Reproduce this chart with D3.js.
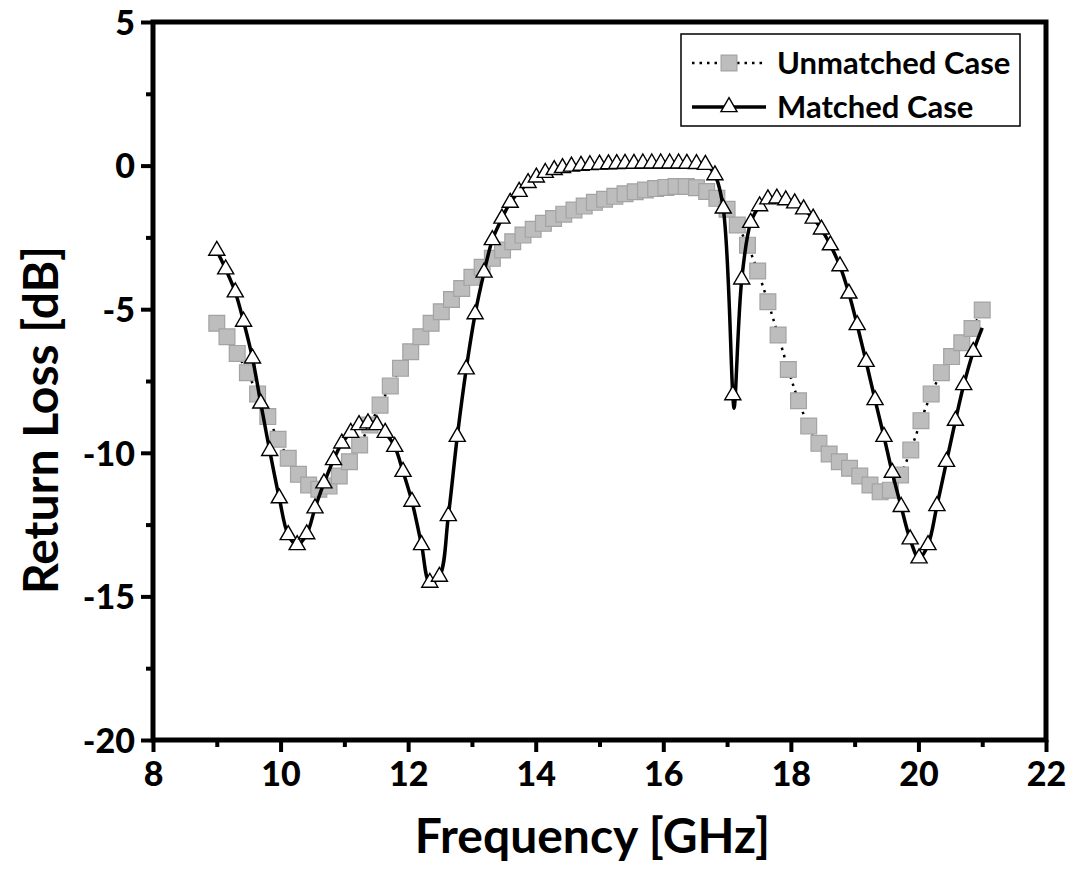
<!DOCTYPE html>
<html>
<head>
<meta charset="utf-8">
<script src="https://cdn.jsdelivr.net/npm/d3@7"></script>
<style>
  body { margin: 0; background: #fff; }
  svg { display: block; }
  text { font-family: Lato, "Open Sans", sans-serif; font-weight: bold; fill: #000; }
</style>
</head>
<body>
<svg></svg>
<script>
var width = 1066, height = 888;

// frequency in GHz, return loss in dB
var unmatchedFreq = [9.00, 9.16, 9.32, 9.48, 9.64, 9.80, 9.96, 10.12, 10.28, 10.44, 10.60, 10.76, 10.92, 11.08, 11.24, 11.40,
    11.56, 11.72, 11.88, 12.04, 12.20, 12.36, 12.52, 12.68, 12.84, 13.00, 13.16, 13.32, 13.48, 13.64, 13.80, 13.96,
    14.12, 14.28, 14.44, 14.60, 14.76, 14.92, 15.08, 15.24, 15.40, 15.56, 15.72, 15.88, 16.04, 16.20, 16.36, 16.52,
    16.68, 16.84, 17.00, 17.16, 17.32, 17.48, 17.64, 17.80, 17.96, 18.12, 18.28, 18.44, 18.60, 18.76, 18.92, 19.08,
    19.24, 19.40, 19.56, 19.72, 19.88, 20.04, 20.20, 20.36, 20.52, 20.68, 20.84, 21.00];
var unmatchedRL = [-5.49, -5.96, -6.54, -7.21, -7.95, -8.74, -9.53, -10.19, -10.75, -11.12, -11.27, -11.16, -10.81, -10.31, -9.73, -9.03,
    -8.34, -7.67, -7.06, -6.48, -5.96, -5.49, -5.09, -4.66, -4.28, -3.89, -3.54, -3.23, -2.94, -2.65, -2.42, -2.22,
    -2.01, -1.84, -1.69, -1.55, -1.41, -1.28, -1.17, -1.07, -0.98, -0.91, -0.85, -0.80, -0.76, -0.73, -0.73, -0.77,
    -0.90, -1.14, -1.52, -2.07, -2.77, -3.67, -4.74, -5.90, -7.10, -8.19, -9.07, -9.67, -10.04, -10.31, -10.54, -10.81,
    -11.12, -11.36, -11.30, -10.77, -9.90, -8.88, -7.95, -7.21, -6.65, -6.17, -5.67, -5.03];

var matchedFreq = [9.00, 9.14, 9.29, 9.42, 9.56, 9.69, 9.83, 9.98, 10.12, 10.26, 10.41, 10.54, 10.68, 10.83, 10.96, 11.10,
    11.23, 11.37, 11.51, 11.64, 11.79, 11.92, 12.06, 12.21, 12.34, 12.49, 12.63, 12.77, 12.91, 13.05, 13.19, 13.32,
    13.47, 13.60, 13.74, 13.88, 14.01, 14.15, 14.29, 14.42, 14.56, 14.71, 14.85, 15.00, 15.14, 15.27, 15.40, 15.54,
    15.68, 15.82, 15.96, 16.10, 16.24, 16.37, 16.52, 16.66, 16.81, 16.94, 17.09, 17.23, 17.37, 17.51, 17.64, 17.78,
    17.92, 18.06, 18.20, 18.35, 18.48, 18.62, 18.77, 18.91, 19.04, 19.18, 19.32, 19.46, 19.59, 19.73, 19.87, 20.01,
    20.15, 20.29, 20.44, 20.58, 20.71, 20.86];
var matchedRL = [-2.96, -3.61, -4.41, -5.43, -6.71, -8.28, -9.93, -11.58, -12.86, -13.21, -12.83, -11.93, -11.06, -10.25, -9.67, -9.30,
    -9.03, -8.97, -9.03, -9.30, -9.79, -10.66, -11.70, -13.21, -14.52, -14.31, -12.20, -9.44, -7.09, -5.17, -3.72, -2.59,
    -1.84, -1.29, -0.91, -0.60, -0.41, -0.25, -0.15, -0.08, -0.03, 0.00, 0.02, 0.04, 0.05, 0.06, 0.07, 0.07,
    0.08, 0.08, 0.08, 0.08, 0.08, 0.07, 0.06, 0.03, -0.33, -1.49, -7.99, -3.96, -1.99, -1.41, -1.17, -1.14,
    -1.20, -1.31, -1.52, -1.84, -2.22, -2.77, -3.50, -4.45, -5.55, -6.83, -8.16, -9.44, -10.69, -11.88, -13.01, -13.67,
    -13.21, -11.85, -10.31, -8.88, -7.64, -6.48];
// sweep points of the solid line that carry no marker
var matchedLineOnlyFreq = [17.11, 21.00];
var matchedLineOnlyRL = [-8.45, -5.65];

var xTicks = [8, 10, 12, 14, 16, 18, 20, 22];
var xMinorTicks = [9, 11, 13, 15, 17, 19, 21];
var yTicks = [-20, -15, -10, -5, 0, 5];
var yMinorTicks = [-17.5, -12.5, -7.5, -2.5, 2.5];
var legendLabels = ['Unmatched Case', 'Matched Case'];

var unmatched = unmatchedFreq.map((f, i) => ({f: f, v: unmatchedRL[i]}));
var matched = matchedFreq.map((f, i) => ({f: f, v: matchedRL[i]}));
var matchedLine = matched
    .concat(matchedLineOnlyFreq.map((f, i) => ({f: f, v: matchedLineOnlyRL[i]})))
    .sort((a, b) => a.f - b.f);

var plotLeft = 153, plotRight = 1046, plotTop = 22, plotBottom = 740;

var x = d3.scaleLinear().domain([8, 22]).range([plotLeft, plotRight]);
var y = d3.scaleLinear().domain([-20, 5]).range([plotBottom, plotTop]);

var svg = d3.select('svg')
    .attr('width', width)
    .attr('height', height);

// axes (plain hyphen for negatives, like the original)
var xAxis = svg.append('g')
    .attr('transform', `translate(0,${plotBottom})`)
    .call(d3.axisBottom(x).tickValues(xTicks).tickSize(12).tickPadding(10).tickFormat(d => String(d)));
var xMinor = svg.append('g')
    .attr('transform', `translate(0,${plotBottom})`)
    .call(d3.axisBottom(x).tickValues(xMinorTicks).tickSize(7).tickFormat(''));

var yAxis = svg.append('g')
    .attr('transform', `translate(${plotLeft},0)`)
    .call(d3.axisLeft(y).tickValues(yTicks).tickSize(12).tickPadding(6).tickFormat(d => String(d)));
var yMinor = svg.append('g')
    .attr('transform', `translate(${plotLeft},0)`)
    .call(d3.axisLeft(y).tickValues(yMinorTicks).tickSize(7).tickFormat(''));

[xAxis, xMinor, yAxis, yMinor].forEach(function(g){
    g.select('.domain').remove();
    g.selectAll('.tick line').attr('stroke', '#000').attr('stroke-width', 4);
    g.selectAll('.tick text')
        .style('font-size', '34px')
        .style('font-family', 'Lato, "Open Sans", sans-serif')
        .style('font-weight', '900')
        .attr('fill', '#000');
});
yAxis.selectAll('.tick text').attr('dy', '0.36em');

// frame
svg.append('rect')
    .attr('x', plotLeft)
    .attr('y', plotTop)
    .attr('width', plotRight - plotLeft)
    .attr('height', plotBottom - plotTop)
    .attr('fill', 'none')
    .attr('stroke', '#000')
    .attr('stroke-width', 5);

// unmatched
var line = d3.line().x(d => x(d.f)).y(d => y(d.v)).curve(d3.curveCatmullRom);

svg.append('path')
    .datum(unmatched)
    .attr('d', line)
    .attr('fill', 'none')
    .attr('stroke', '#000')
    .attr('stroke-width', 2.5)
    .attr('stroke-dasharray', '2.5,5');

var square = d3.symbol().type(d3.symbolSquare).size(250);
var triangle = d3.symbol().type(d3.symbolTriangle).size(112);

svg.append('g')
    .selectAll('path')
    .data(unmatched)
    .enter()
    .append('path')
        .attr('d', square)
        .attr('transform', d => `translate(${x(d.f)},${y(d.v)})`)
        .attr('fill', '#bdbdbd')
        .attr('stroke', '#a3a3a3')
        .attr('stroke-width', 1.2);

// matched
svg.append('path')
    .datum(matchedLine)
    .attr('d', line)
    .attr('fill', 'none')
    .attr('stroke', '#000')
    .attr('stroke-width', 3.5);

svg.append('g')
    .selectAll('path')
    .data(matched)
    .enter()
    .append('path')
        .attr('d', triangle)
        .attr('transform', d => `translate(${x(d.f)},${y(d.v)})`)
        .attr('fill', '#fff')
        .attr('stroke', '#000')
        .attr('stroke-width', 1.4);

// axis titles
svg.append('text')
    .attr('x', (plotLeft + plotRight) / 2 - 7)
    .attr('y', 853)
    .attr('text-anchor', 'middle')
    .style('font-size', '48px')
    .text('Frequency [GHz]');

svg.append('text')
    .attr('transform', `translate(58,${(plotTop + plotBottom) / 2 + 39}) rotate(-90)`)
    .attr('text-anchor', 'middle')
    .style('font-size', '48px')
    .text('Return Loss [dB]');

// legend
var legend = svg.append('g');
legend.append('rect')
    .attr('x', 681)
    .attr('y', 34)
    .attr('width', 339)
    .attr('height', 92)
    .attr('fill', '#fff')
    .attr('stroke', '#000')
    .attr('stroke-width', 1.5);

var rows = [63, 107];
legend.append('line')
    .attr('x1', 692).attr('x2', 766)
    .attr('y1', rows[0]).attr('y2', rows[0])
    .attr('stroke', '#000')
    .attr('stroke-width', 2.5)
    .attr('stroke-dasharray', '2.5,5');
legend.append('path')
    .attr('d', square)
    .attr('transform', `translate(729,${rows[0]})`)
    .attr('fill', '#bdbdbd')
    .attr('stroke', '#a3a3a3')
    .attr('stroke-width', 1.2);
legend.append('line')
    .attr('x1', 692).attr('x2', 766)
    .attr('y1', rows[1]).attr('y2', rows[1])
    .attr('stroke', '#000')
    .attr('stroke-width', 3.5);
legend.append('path')
    .attr('d', triangle)
    .attr('transform', `translate(729,${rows[1]})`)
    .attr('fill', '#fff')
    .attr('stroke', '#000')
    .attr('stroke-width', 1.4);

legend.selectAll('.label')
    .data(legendLabels)
    .enter()
    .append('text')
        .classed('label', true)
        .attr('x', 777)
        .attr('y', (d, i) => rows[i] + 11)
        .style('font-size', '31px')
        .text(d => d);
</script>
</body>
</html>
